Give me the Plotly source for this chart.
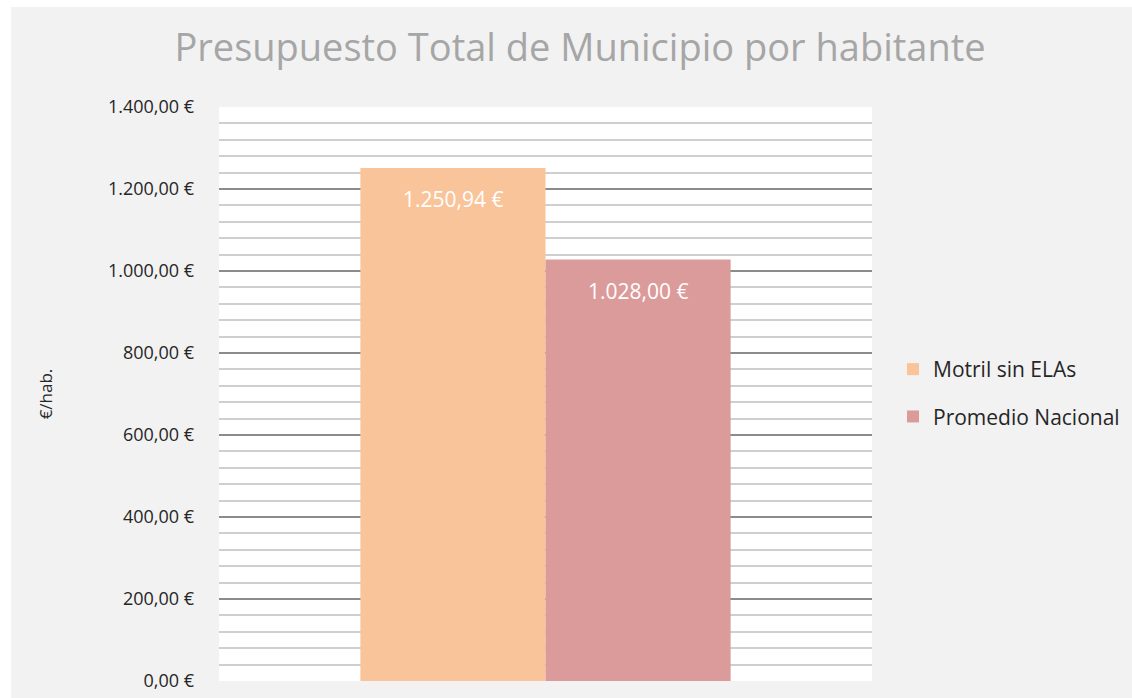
import plotly.graph_objects as go

categories = ["Presupuesto Total"]
series_names = ["Motril sin ELAs", "Promedio Nacional"]
series_values = [[1250.94], [1028.00]]
series_colors = ["#F9C499", "#DC9B9B"]
tick_values = [0, 200, 400, 600, 800, 1000, 1200, 1400]


def eur(v):
    s = f"{v:,.2f}".replace(",", "X").replace(".", ",").replace("X", ".")
    return s + " €"


tick_text = [eur(v) for v in tick_values]

FONT = "Open Sans"
BARGAP = 0.433

W, H = 1132, 698
L, R, T, B = 219, 260, 107, 17
pw = W - L - R
ph = H - T - B


def px2paper_x(px):
    return (px - L) / pw


def px2paper_y(py):
    return (H - B - py) / ph


fig = go.Figure()
n = len(series_names)
bar_w = (1 - BARGAP) / n
for i, (name, vals, col) in enumerate(zip(series_names, series_values, series_colors)):
    fig.add_trace(go.Bar(
        x=categories, y=vals, name=name, legendgroup=name,
        marker=dict(color=col, line=dict(width=0)),
        hoverinfo="name+y",
    ))
    # data labels placed inside the top of each bar
    for ci, v in enumerate(vals):
        fig.add_annotation(
            x=ci - (1 - BARGAP) / 2 + bar_w * (i + 0.5), y=v, xref="x", yref="y",
            text=eur(v), showarrow=False, yanchor="middle", yshift=-31,
            font=dict(family=FONT, size=21, color="white"),
        )

fig.update_layout(
    width=W, height=H,
    margin=dict(l=L, r=R, t=T, b=B, autoexpand=False),
    paper_bgcolor="#F2F2F2",
    plot_bgcolor="white",
    separators=",.",
    barmode="group",
    bargap=BARGAP,
    bargroupgap=0,
    font=dict(family=FONT, color="#404040"),
    title=dict(text="Presupuesto Total de Municipio por habitante",
               font=dict(family=FONT, size=38, color="#A6A6A6"),
               x=px2paper_x(580), xref="paper", xanchor="center",
               y=1 - 48 / H, yref="container", yanchor="middle"),
    legend=dict(x=px2paper_x(893), xanchor="left", y=px2paper_y(393), yanchor="middle",
                font=dict(family=FONT, size=21, color="#262626"),
                bgcolor="rgba(0,0,0,0)", tracegroupgap=17, itemwidth=30),
    showlegend=True,
)

fig.update_xaxes(showticklabels=False, showgrid=False, zeroline=False, showline=False,
                 fixedrange=True, range=[-0.5, 0.5])
fig.update_yaxes(
    range=[0, 1400], tickvals=tick_values, ticktext=tick_text,
    tickfont=dict(family=FONT, size=18, color="#262626"),
    ticklabelstandoff=24,
    showgrid=True, gridcolor="#8C8C8C", gridwidth=1.5,
    minor=dict(dtick=40, tick0=0, showgrid=True, gridcolor="#CFCFCF", gridwidth=1.5),
    zeroline=False, showline=False,
    title=dict(text="€/hab.", font=dict(family=FONT, size=17, color="#262626"), standoff=50),
)

# white outer border like the original screenshot
fig.add_shape(type="rect", xref="paper", yref="paper", layer="below",
              x0=px2paper_x(0), x1=px2paper_x(11), y0=px2paper_y(H), y1=px2paper_y(0),
              fillcolor="white", line=dict(width=0))
fig.add_shape(type="rect", xref="paper", yref="paper", layer="below",
              x0=px2paper_x(0), x1=px2paper_x(W), y0=px2paper_y(7), y1=px2paper_y(0),
              fillcolor="white", line=dict(width=0))

fig.write_html("out.html", config={"displayModeBar": False},
               post_script="document.body.style.margin='0px';")
